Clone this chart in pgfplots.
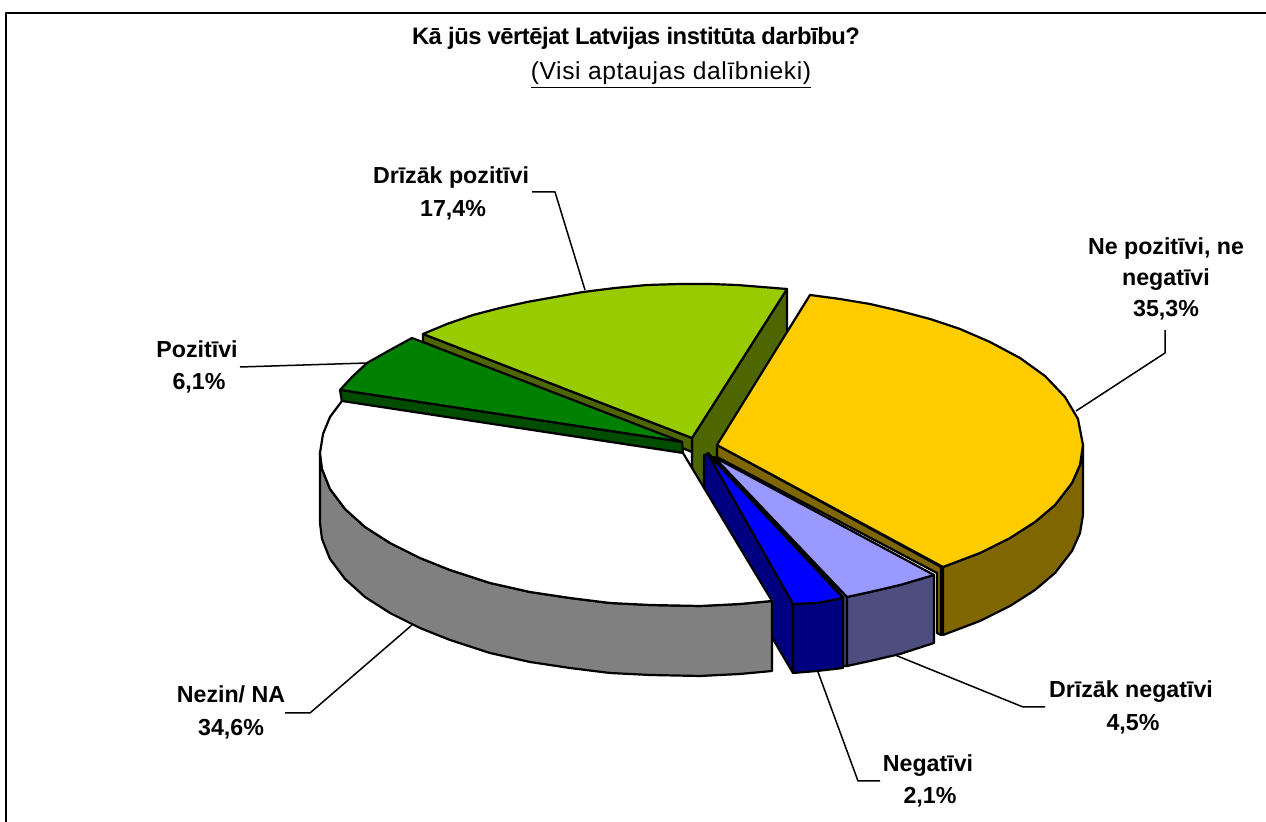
\documentclass[border=0pt]{standalone}
\usepackage{fontspec}
\setmainfont{Liberation Sans}
\usepackage{pgfplots}
\pgfplotsset{compat=1.18}
\definecolor{cYel}{HTML}{FFCC00}\definecolor{cYelD}{HTML}{806600}
\definecolor{cPer}{HTML}{9999FF}\definecolor{cPerD}{HTML}{4D4D80}
\definecolor{cBlu}{HTML}{0000FF}\definecolor{cNav}{HTML}{000080}
\definecolor{cGry}{HTML}{808080}
\definecolor{cGrn}{HTML}{008000}\definecolor{cGrnD}{HTML}{004D00}
\definecolor{cLim}{HTML}{99CC00}\definecolor{cOli}{HTML}{4D6600}
\tikzset{sl/.style={draw=black,line width=1.1pt},
  lead/.style={draw=black,line width=0.75pt},
  lab/.style={font=\fontsize{11.6pt}{13pt}\selectfont\bfseries,align=center,inner sep=0pt,anchor=base}}
\begin{document}
\begin{tikzpicture}
\path[use as bounding box] (0,0) rectangle (633pt,411pt);
\begin{axis}[at={(0,0)},anchor=south west,scale only axis,width=633pt,height=411pt,xmin=0,xmax=1266,ymin=0,ymax=822,
  y dir=reverse,hide axis,
  every axis plot/.append style={no markers,forget plot,line join=round}]
% frame
\addplot[draw=black,line width=1.2pt] coordinates {(6,822)(6,13)(1266,13)};
% leaders
\addplot[lead] coordinates {(532,192)(555,192)(585,290)};
\addplot[lead] coordinates {(1165,330)(1165,353)(1076,411)};
\addplot[lead] coordinates {(240,367)(367,363)};
\addplot[lead] coordinates {(285,713)(310,713)(412,625)};
\addplot[lead] coordinates {(880,781)(858,781)(818,672)};
\addplot[lead] coordinates {(1045,707)(1023,707)(895,655)};
% olive walls and lime top
\addplot[sl,fill=cOli] coordinates {(692,438)(787,289)(787,357)(692,506)} --cycle;
\addplot[sl,fill=cOli] coordinates {(423,334)(692,438)(692,452)(423,342)} --cycle;
\addplot[sl,fill=cLim] coordinates {(692,438)(423,334)(447,324)(473,315)(500,308)(527,302)(555,297)(583,292)(615,288)(647,285)(680,284)(710,284)(737,285)(787,289)} --cycle;
% green
\addplot[sl,fill=cGrn] coordinates {(682,442)(340,390)(352,377)(367,363)(390,350)(412,338)} --cycle;
\addplot[sl,fill=cGrnD] coordinates {(340,390)(682,442)(683,453)(342,402)} --cycle;
% yellow
\addplot[sl,fill=cYelD] coordinates {(717,445)(941,567)(941,635)(937,633)(937,573)(717,457)} --cycle;
\addplot[sl,fill=cYelD] coordinates {(943,567)(980,553)(1010,538)(1035,522)(1055,505)(1072,483)(1080,465)(1083,445)(1083,515)(1080,533)(1072,551)(1055,573)(1035,590)(1010,606)(980,621)(943,635)} --cycle;
\addplot[sl,fill=cYel] coordinates {(717,445)(810,295)(840,299)(870,304)(900,311)(930,319)(960,329)(990,342)(1020,358)(1045,376)(1065,397)(1078,419)(1083,445)(1080,465)(1072,483)(1055,505)(1035,522)(1010,538)(980,553)(943,567)} --cycle;
% periwinkle
\addplot[sl,fill=cPerD] coordinates {(708,453)(847,597)(847,666)(843,666)(843,597)} --cycle;
\addplot[sl,fill=cPerD] coordinates {(847,597)(870,592)(900,585)(934,575)(934,643)(900,654)(870,661)(847,666)} --cycle;
\addplot[sl,fill=cPer] coordinates {(714,457)(934,575)(900,585)(870,592)(847,597)} --cycle;
% blue
\addplot[sl,fill=cNav] coordinates {(704,455)(708,454)(793,604)(793,673)(704,522)} --cycle;
\addplot[sl,fill=cNav] coordinates {(793,604)(817,603)(843,598)(843,668)(817,671)(793,673)} --cycle;
\addplot[sl,fill=cBlu] coordinates {(708,454)(843,598)(817,603)(793,604)} --cycle;
% grey wall and white top
\addplot[sl,fill=cGry] coordinates {(320,453)(322,469)(330,489)(345,509)(365,527)(390,543)(420,558)(450,570)(490,583)(530,592)(570,598)(610,603)(650,605)(700,606)(740,604)(772,601)(772,671)(740,674)(700,676)(650,675)(610,673)(570,668)(530,662)(490,653)(450,640)(420,628)(390,613)(365,597)(345,579)(330,559)(322,539)(320,523)} --cycle;
\addplot[sl,fill=white] coordinates {(683,453)(342,401)(330,417)(323,434)(320,453)(322,469)(330,489)(345,509)(365,527)(390,543)(420,558)(450,570)(490,583)(530,592)(570,598)(610,603)(650,605)(700,606)(740,604)(772,601)} --cycle;
% labels
\node[lab] at (axis cs:636,45) {\fontsize{11.9pt}{14pt}\selectfont\addfontfeature{LetterSpace=-2}Kā jūs vērtējat Latvijas institūta darbību?};
\node[inner sep=0pt,anchor=base,font=\fontsize{12.3pt}{14pt}\selectfont] at (axis cs:671,80) {\addfontfeature{LetterSpace=2.5}\underline{(Visi aptaujas dalībnieki)}};
\node[lab] at (axis cs:451,184) {Drīzāk pozitīvi};
\node[lab] at (axis cs:453,217) {17,4\%};
\node[lab] at (axis cs:1166,255) {Ne pozitīvi, ne};
\node[lab] at (axis cs:1166,286) {negatīvi};
\node[lab] at (axis cs:1166,317) {35,3\%};
\node[lab] at (axis cs:197,358) {Pozitīvi};
\node[lab] at (axis cs:199,390) {6,1\%};
\node[lab] at (axis cs:231,703) {Nezin/ NA};
\node[lab] at (axis cs:231,736) {34,6\%};
\node[lab] at (axis cs:928,772) {Negatīvi};
\node[lab] at (axis cs:930,804) {2,1\%};
\node[lab] at (axis cs:1131,698) {Drīzāk negatīvi};
\node[lab] at (axis cs:1133,731) {4,5\%};
\end{axis}
\end{tikzpicture}
\end{document}
